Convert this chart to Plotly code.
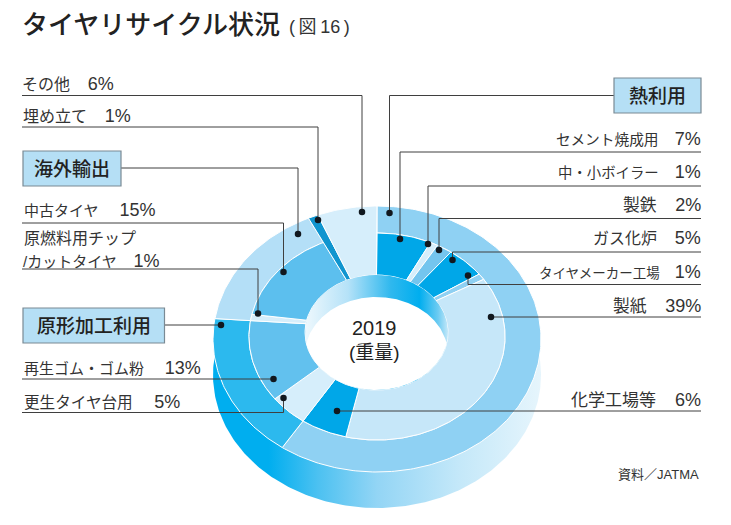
import numpy as np
import plotly.graph_objects as go

# ---- data ----
inner_labels = ["セメント焼成用", "中・小ボイラー", "製鉄", "ガス化炉", "タイヤメーカー工場", "製紙", "化学工場等",
                "更生タイヤ台用", "再生ゴム・ゴム粉", "原燃料用チップ/カットタイヤ", "中古タイヤ"]
inner_values = [7, 1, 2, 5, 1, 39, 6, 5, 13, 1, 15]
outer_labels = ["熱利用", "原形加工利用", "海外輸出"]
outer_values = [61, 18, 16]
full_labels = ["埋め立て", "その他"]   # these two run through both rings
full_values = [1, 6]

# ---- styles ----
inner_colors = ["#00a7e8", "#d6eefb", "#74c5ee", "#00a7e8", "#8fd0f2", "#c6e7f9", "#00a7e8",
                "#d6eefb", "#62c1ee", "#d6eefb", "#5cbfee"]
outer_colors = ["#8fd1f3", "#2cb9ee", "#b4dff7"]
full_colors = ["#1095cf", "#d6eefb"]

# ellipses: centre x, centre y, half width, half height
OUTER = (377, 339, 164, 133)
MID = (377, 336.5, 128, 103.5)
HOLE = (376.5, 332.5, 71.5, 57.5)
DEPTH = 36
WALL = 22
FONT = "Liberation Sans, Noto Sans CJK JP"
HEAVY = "Liberation Sans, Noto Sans CJK JP Medium, Noto Sans CJK JP"
INK = "#333333"
TOTAL = sum(outer_values) + sum(full_values)


def ell(e, t):
    return e[0] + e[2] * np.sin(t), e[1] - e[3] * np.cos(t)


def wedge(name, start, stop, e0, e1, color):
    t = np.linspace(start, stop, max(3, int((stop - start) * 60)))
    x1, y1 = ell(e1, t)
    x0, y0 = ell(e0, t[::-1])
    return go.Scatter(x=np.r_[x1, x0, x1[0]], y=np.r_[y1, y0, y1[0]], mode="lines", fill="toself",
                      fillcolor=color, line=dict(color="white", width=1), name=name,
                      hoverinfo="name", showlegend=False)


def ring(labels, values, colors, e0, e1, offset=0):
    edges = (offset + np.r_[0, np.cumsum(values)]) / TOTAL * 2 * np.pi
    return [wedge(n, edges[i], edges[i + 1], e0, e1, c) for i, (n, c) in enumerate(zip(labels, colors))]


fig = go.Figure()
T = np.linspace(0, 2 * np.pi, 361)

# side wall
sx, sy = ell((OUTER[0], OUTER[1] + DEPTH, OUTER[2], OUTER[3]), T)
fig.add_trace(go.Scatter(x=sx, y=sy, mode="lines", fill="toself", line=dict(width=0), hoverinfo="skip",
                         showlegend=False,
                         fillgradient=dict(type="horizontal", colorscale=[
                             [0, "#00aeef"], [0.17, "#00aeef"], [0.32, "#4cc1f1"], [0.5, "#93d5f5"],
                             [0.75, "#c4e8f9"], [1, "#e6f5fc"]])))

fig.add_traces(ring(outer_labels, outer_values, outer_colors, MID, OUTER))
fig.add_traces(ring(inner_labels, inner_values, inner_colors, HOLE, MID))
fig.add_traces(ring(full_labels, full_values, full_colors, HOLE, OUTER, offset=sum(outer_values)))

# hole: inner wall and opening
hx, hy = ell(HOLE, T)
fig.add_trace(go.Scatter(x=hx, y=hy, mode="lines", fill="toself", line=dict(width=0), hoverinfo="skip",
                         showlegend=False,
                         fillgradient=dict(type="horizontal", colorscale=[
                             [0, "#eef8fd"], [0.3, "#b5e2f8"], [0.6, "#2fb8ee"], [0.8, "#00aeef"],
                             [0.93, "#6ccbf2"], [1, "#c4e8f9"]])))
ux = HOLE[0] + HOLE[2] * np.linspace(-0.999, 0.999, 241)
half = HOLE[3] * np.sqrt(1 - ((ux - HOLE[0]) / HOLE[2]) ** 2)
bottom = HOLE[1] + half
top = np.minimum(HOLE[1] + WALL - half, bottom)
fig.add_trace(go.Scatter(x=np.r_[ux, ux[::-1]], y=np.r_[top, bottom[::-1]], mode="lines", fill="toself",
                         fillcolor="white", line=dict(width=0), hoverinfo="skip", showlegend=False))

# leader lines: polyline ending at the dot
LEADERS = [
    [(22, 95.5), (362, 95.5), (362, 212)],
    [(22, 127), (318, 127), (318, 220)],
    [(121, 168), (298, 168), (298, 234)],
    [(22, 223), (283.5, 223), (283.5, 272)],
    [(22, 269), (258, 269), (258, 313.5)],
    [(164, 325), (221, 325)],
    [(22, 379), (273.5, 379)],
    [(22, 412.5), (283.5, 412.5), (283.5, 398)],
    [(614, 95.5), (389.5, 95.5), (389.5, 213)],
    [(701, 152), (400, 152), (400, 239)],
    [(701, 186), (428, 186), (428, 244)],
    [(701, 218.5), (439, 218.5), (439, 250)],
    [(701, 252), (452.5, 252), (452.5, 260)],
    [(701, 284.5), (468, 284.5), (468, 275.5)],
    [(701, 317), (491, 317)],
    [(701, 411), (337, 411)],
]
for path in LEADERS:
    xs, ys = zip(*path)
    fig.add_trace(go.Scatter(x=xs, y=ys, mode="lines", line=dict(color="#3f3f3f", width=1),
                             hoverinfo="skip", showlegend=False))
fig.add_trace(go.Scatter(x=[p[-1][0] for p in LEADERS], y=[p[-1][1] for p in LEADERS], mode="markers",
                         marker=dict(color="#11181f", size=6.5), hoverinfo="skip", showlegend=False))

# category boxes
BOXES = [("海外輸出", 23, 121, 151, 186), ("原形加工利用", 23, 164.5, 308, 343), ("熱利用", 614, 701, 78, 113)]
for text, x0, x1, y0, y1 in BOXES:
    fig.add_shape(type="rect", x0=x0, x1=x1, y0=y0, y1=y1, fillcolor="#b5dff5",
                  line=dict(color="#7a8a94", width=1.2), layer="above")
    fig.add_annotation(x=(x0 + x1) / 2, y=(y0 + y1) / 2 + 0.5, text=text, showarrow=False,
                       xanchor="center", yanchor="middle", font=dict(size=19, color="#222222", family=HEAVY))

NB = "\u00a0"


def label(name, pct, gap=4):
    return f'{name}{NB * gap}<span style="font-size:18px">{pct}</span>'


# text, x, y, CJK size
LEFT_TEXT = [
    (label("その他", "6%"), 22, 84, 16), (label("埋め立て", "1%"), 23, 116, 16),
    (label("中古タイヤ", "15%", 5), 24, 210, 15), ("原燃料用チップ", 24, 238, 16),
    (label("/カットタイヤ", "1%"), 23, 261, 15), (label("再生ゴム・ゴム粉", "13%", 5), 24, 368, 15),
    (label("更生タイヤ台用", "5%", 5), 24, 402, 15.6),
]
# text, y, CJK size
RIGHT_TEXT = [
    (label("セメント焼成用", "7%"), 139, 14.7), (label("中・小ボイラー", "1%"), 172, 14.4),
    (label("製鉄", "2%"), 205, 16.8), (label("ガス化炉", "5%"), 238, 16),
    (label("タイヤメーカー工場", "1%"), 272, 13.5), (label("製紙", "39%"), 306, 16.8),
    (label("化学工場等", "6%"), 400, 17),
]
for t, x, y, s in LEFT_TEXT:
    fig.add_annotation(x=x, y=y, text=t, showarrow=False, xanchor="left", yanchor="middle",
                       xshift=-2, font=dict(size=s, color=INK, family=FONT))
for t, y, s in RIGHT_TEXT:
    fig.add_annotation(x=701, y=y, text=t, showarrow=False, xanchor="right", yanchor="middle",
                       xshift=2, font=dict(size=s, color=INK, family=FONT))

fig.add_annotation(x=22, y=25, text="タイヤリサイクル状況", showarrow=False, xanchor="left", yanchor="middle",
                   xshift=-2, font=dict(size=26, color="#222222", family=HEAVY))
fig.add_annotation(x=289, y=27, text="(\u2009図\u200916\u2009)", showarrow=False, xanchor="left", yanchor="middle",
                   xshift=-2, font=dict(size=18, color=INK, family=FONT))
fig.add_annotation(x=374, y=328, text="2019", showarrow=False, xanchor="center", yanchor="middle",
                   font=dict(size=20, color="#222222", family=FONT))
fig.add_annotation(x=374, y=352, text="(重量)", showarrow=False, xanchor="center", yanchor="middle",
                   font=dict(size=19, color="#222222", family=FONT))
fig.add_annotation(x=699, y=474, text="資料／JATMA", showarrow=False, xanchor="right", yanchor="middle",
                   xshift=2, font=dict(size=13, color=INK, family=FONT))

fig.update_layout(width=731, height=525, margin=dict(l=0, r=0, t=0, b=0), showlegend=False,
                  paper_bgcolor="white", plot_bgcolor="white",
                  xaxis=dict(range=[0, 731], visible=False, fixedrange=True),
                  yaxis=dict(range=[525, 0], visible=False, fixedrange=True))
fig.write_html("out.html", config=dict(displayModeBar=False),
               post_script="document.body.style.margin='0';document.documentElement.style.overflow='hidden';")
